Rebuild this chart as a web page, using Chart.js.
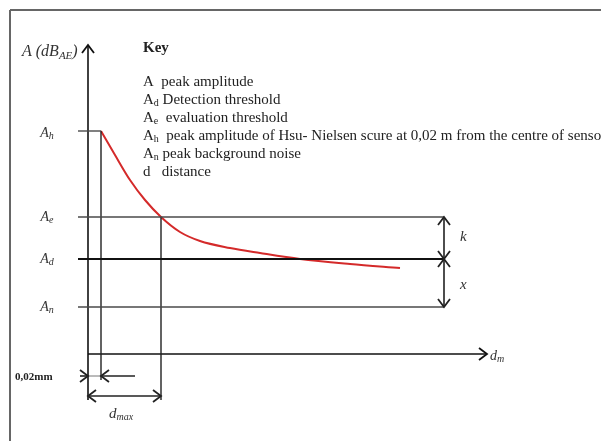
<!DOCTYPE html>
<html>
<head>
<meta charset="utf-8">
<script src="https://cdn.jsdelivr.net/npm/chart.js@4/dist/chart.umd.min.js"></script>
<style>
  html, body { margin: 0; padding: 0; background: #fff; }
  #wrap { width: 601px; height: 441px; }
</style>
</head>
<body>
<div id="wrap"><canvas id="chart" width="601" height="441"></canvas></div>
<script>
// levels (dB, relative to the distance axis)
const levelNames = ['h', 'e', 'd', 'n'];
const levelValues = [223, 137, 95, 47];

// distances (relative to the amplitude axis)
const dClose = 13;   // 0,02 m from sensor centre
const dMax = 73;
const lineStart = -10;
const lineEnd = 356;
const axisTop = 309;
const axisRight = 399;
const axisBottom = -46;

// attenuation curve
const curveDist = [13, 27, 42, 57, 73, 92, 112, 142, 172, 212, 262, 312];
const curveAmp = [223, 199, 174, 154, 137, 122, 113, 106, 101, 95, 90, 86];

const keyLines = [
    ['A', '', '  peak amplitude'],
    ['A', 'd', ' Detection threshold'],
    ['A', 'e', '  evaluation threshold'],
    ['A', 'h', '  peak amplitude of Hsu- Nielsen scure at 0,02 m from the centre of sensor'],
    ['A', 'n', ' peak background noise'],
    ['d', '', '   distance']
];

const lvl = name => levelValues[levelNames.indexOf(name)];
const seg = (x1, y1, x2, y2) => [{ x: x1, y: y1 }, { x: x2, y: y2 }];

const grey = '#4a4a4a';
const datasets = [];
const addLine = (data, opts) => datasets.push(Object.assign({
    data: data, showLine: true, pointRadius: 0, borderColor: grey, borderWidth: 1.4, fill: false
}, opts || {}));

// frame
addLine(seg(-78, 354 - 10, 513, 354 - 10), { borderColor: '#666', borderWidth: 2 });
addLine(seg(-78, 354 - 10, -78, -87), { borderColor: '#666', borderWidth: 2 });

// level lines
addLine(seg(lineStart, lvl('h'), dClose, lvl('h')));
addLine(seg(lineStart, lvl('e'), lineEnd, lvl('e')));
addLine(seg(lineStart, lvl('d'), lineEnd, lvl('d')), { borderColor: '#111', borderWidth: 1.8 });
addLine(seg(lineStart, lvl('n'), lineEnd, lvl('n')));

// verticals
addLine(seg(dClose, lvl('h'), dClose, -26), { borderColor: '#222' });
addLine(seg(dMax, lvl('e'), dMax, axisBottom), { borderColor: '#222' });

// axes
addLine(seg(0, axisBottom, 0, axisTop), { borderColor: '#111', borderWidth: 1.6, arrows: ['end'] });
addLine(seg(0, 0, axisRight, 0), { borderColor: '#111', borderWidth: 1.6, arrows: ['end'] });

// k and x arrows
addLine(seg(lineEnd, lvl('e'), lineEnd, lvl('d')), { borderColor: '#222', borderWidth: 1.6, arrows: ['start', 'end'] });
addLine(seg(lineEnd, lvl('d'), lineEnd, lvl('n')), { borderColor: '#222', borderWidth: 1.6, arrows: ['start', 'end'] });

// 0,02 mm arrows
addLine(seg(-8, -22, 0, -22), { borderColor: '#222', borderWidth: 1.6, arrows: ['end'] });
addLine(seg(0, -22, dClose, -22), { borderColor: '#777', borderWidth: 1 });
addLine(seg(47, -22, dClose, -22), { borderColor: '#222', borderWidth: 1.6, arrows: ['end'] });

// d max arrow
addLine(seg(0, -42, dMax, -42), { borderColor: '#222', borderWidth: 1.6, arrows: ['start', 'end'] });

// curve
addLine(curveDist.map((d, i) => ({ x: d, y: curveAmp[i] })),
    { borderColor: '#d42a2a', borderWidth: 2, cubicInterpolationMode: 'monotone' });

const arrowHeads = {
    id: 'arrowHeads',
    afterDatasetsDraw(chart) {
        const { ctx, scales: { x, y } } = chart;
        chart.data.datasets.forEach(ds => {
            if (!ds.arrows) return;
            const pts = ds.data.map(p => [x.getPixelForValue(p.x), y.getPixelForValue(p.y)]);
            ds.arrows.forEach(which => {
                const tip = which === 'end' ? pts[pts.length - 1] : pts[0];
                const from = which === 'end' ? pts[pts.length - 2] : pts[1];
                const len = Math.hypot(tip[0] - from[0], tip[1] - from[1]);
                const ux = (tip[0] - from[0]) / len, uy = (tip[1] - from[1]) / len;
                const L = 8, W = 6;
                ctx.save();
                ctx.strokeStyle = ds.borderColor;
                ctx.lineWidth = 1.8;
                ctx.beginPath();
                ctx.moveTo(tip[0] - L * ux - W * uy, tip[1] - L * uy + W * ux);
                ctx.lineTo(tip[0], tip[1]);
                ctx.lineTo(tip[0] - L * ux + W * uy, tip[1] - L * uy - W * ux);
                ctx.stroke();
                ctx.restore();
            });
        });
    }
};

// text with subscripts
function drawParts(ctx, px, py, parts, font, size, align, subRatio) {
    const subSize = Math.round(size * (subRatio || 0.68));
    let widths = parts.map(p => {
        ctx.font = font + ' ' + (p.sub ? subSize : size) + 'px "Liberation Serif"';
        return ctx.measureText(p.t).width;
    });
    const total = widths.reduce((a, b) => a + b, 0);
    let cx = align === 'center' ? px - total / 2 : px;
    parts.forEach((p, i) => {
        ctx.font = font + ' ' + (p.sub ? subSize : size) + 'px "Liberation Serif"';
        ctx.fillText(p.t, cx, p.sub ? py + size * 0.25 : py);
        cx += widths[i];
    });
}

const labels = {
    id: 'labels',
    afterDraw(chart) {
        const { ctx, scales: { x, y } } = chart;
        const X = v => x.getPixelForValue(v), Y = v => y.getPixelForValue(v);
        ctx.save();
        ctx.textBaseline = 'middle';
        ctx.textAlign = 'left';

        ctx.fillStyle = '#333';
        drawParts(ctx, X(-66), Y(302), [{ t: 'A (dB' }, { t: 'AE', sub: true }, { t: ')' }], 'italic', 16, 'left', 0.7);
        levelNames.forEach((n, i) => {
            drawParts(ctx, X(-41), Y(levelValues[i]) + (n === 'h' ? 2 : 0), [{ t: 'A' }, { t: n, sub: true }], 'italic', 14, 'center');
        });
        drawParts(ctx, X(372), Y(117), [{ t: 'k' }], 'italic', 15, 'left');
        drawParts(ctx, X(372), Y(69), [{ t: 'x' }], 'italic', 15, 'left');
        drawParts(ctx, X(axisRight + 3), Y(-2), [{ t: 'd' }, { t: 'm', sub: true }], 'italic', 14, 'left');
        drawParts(ctx, X(33), Y(-60), [{ t: 'd' }, { t: 'max', sub: true }], 'italic', 15, 'center');

        ctx.fillStyle = '#222';
        drawParts(ctx, X(-73), Y(-23), [{ t: '0,02mm' }], 'bold', 11, 'left');
        drawParts(ctx, X(55), Y(306), [{ t: 'Key' }], 'bold', 15, 'left');
        keyLines.forEach((k, i) => {
            const parts = [{ t: k[0] }];
            if (k[1]) parts.push({ t: k[1], sub: true });
            parts.push({ t: k[2] });
            drawParts(ctx, X(55), Y(272 - i * 18), parts, '', 15, 'left');
        });
        ctx.restore();
    }
};

new Chart(document.getElementById('chart'), {
    type: 'scatter',
    data: { datasets: datasets },
    options: {
        responsive: false,
        animation: false,
        layout: { padding: 0 },
        plugins: { legend: { display: false }, tooltip: { enabled: false } },
        scales: {
            x: { type: 'linear', display: false, min: -88, max: 513 },
            y: { type: 'linear', display: false, min: -87, max: 354 }
        }
    },
    plugins: [arrowHeads, labels]
});
</script>
</body>
</html>
